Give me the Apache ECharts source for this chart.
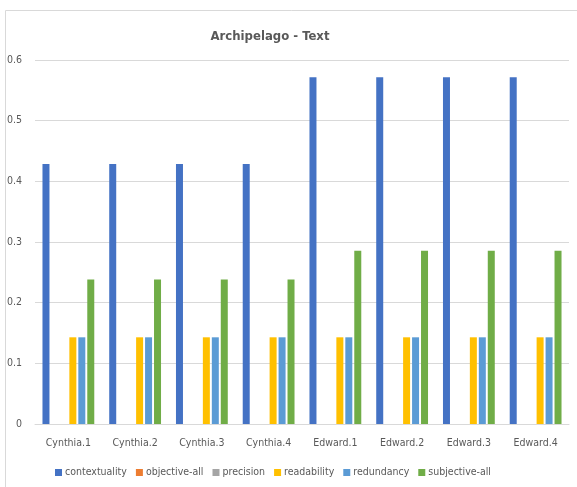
<!DOCTYPE html>
<html>
<head>
<meta charset="utf-8">
<script src="https://cdn.jsdelivr.net/npm/echarts@6/dist/echarts.min.js"></script>
<style>
html,body{margin:0;padding:0;background:#fff;}
#c{width:577px;height:487px;}
</style>
</head>
<body>
<div id="c"></div>
<script>
var categories = ['Cynthia.1','Cynthia.2','Cynthia.3','Cynthia.4','Edward.1','Edward.2','Edward.3','Edward.4'];
var contextuality = [0.4286,0.4286,0.4286,0.4286,0.5714,0.5714,0.5714,0.5714];
var objectiveAll = [0,0,0,0,0,0,0,0];
var precision = [0,0,0,0,0,0,0,0];
var readability = [0.1429,0.1429,0.1429,0.1429,0.1429,0.1429,0.1429,0.1429];
var redundancy = [0.1429,0.1429,0.1429,0.1429,0.1429,0.1429,0.1429,0.1429];
var subjectiveAll = [0.2381,0.2381,0.2381,0.2381,0.2857,0.2857,0.2857,0.2857];
var seriesNames = ['contextuality','objective-all','precision','readability','redundancy','subjective-all'];
var seriesData = [contextuality, objectiveAll, precision, readability, redundancy, subjectiveAll];
var colors = ['#4472C4','#ED7D31','#A5A5A5','#FFC000','#5B9BD5','#70AD47'];

var FONT = '"DejaVu Sans Condensed", "Liberation Sans Narrow", sans-serif';
var chart = echarts.init(document.getElementById('c'));
chart.setOption({
  animation: false,
  color: colors,
  textStyle: {fontFamily: FONT},
  title: {
    text: 'Archipelago - Text',
    left: 265, top: 25, textAlign: 'center',
    textStyle: {fontFamily: FONT, fontSize: 13, fontWeight: 'bold', color: '#595959'}
  },
  graphic: [{
    type: 'polyline', silent: true,
    shape: {points: [[5.5, 487], [5.5, 10.5], [577, 10.5]]},
    style: {stroke: '#d9d9d9', lineWidth: 1, fill: null}
  }],
  legend: {
    data: seriesNames,
    left: 50, top: 462,
    itemWidth: 7, itemHeight: 7, itemGap: 9,
    icon: 'rect',
    textStyle: {fontFamily: FONT, fontSize: 10.5, color: '#595959', padding: [0,0,0,-2]}
  },
  grid: {left: 35, right: 8, top: 60, bottom: 63, containLabel: false},
  xAxis: {
    type: 'category', data: categories,
    axisLine: {lineStyle: {color: '#d9d9d9'}},
    axisTick: {show: false},
    axisLabel: {fontFamily: FONT, fontSize: 10.5, color: '#595959', margin: 14, interval: 0}
  },
  yAxis: {
    type: 'value', min: 0, max: 0.6, interval: 0.1,
    axisLine: {show: false}, axisTick: {show: false},
    splitLine: {lineStyle: {color: '#d9d9d9'}},
    axisLabel: {fontFamily: FONT, fontSize: 10.5, color: '#595959', margin: 13,
      formatter: function(v){ return v === 0 ? '0' : v.toFixed(1); }}
  },
  series: seriesNames.map(function(n, i){
    return {name: n, type: 'bar', data: seriesData[i], barWidth: 7, barGap: '28%',
      itemStyle: {color: colors[i]}};
  })
});
</script>
</body>
</html>
